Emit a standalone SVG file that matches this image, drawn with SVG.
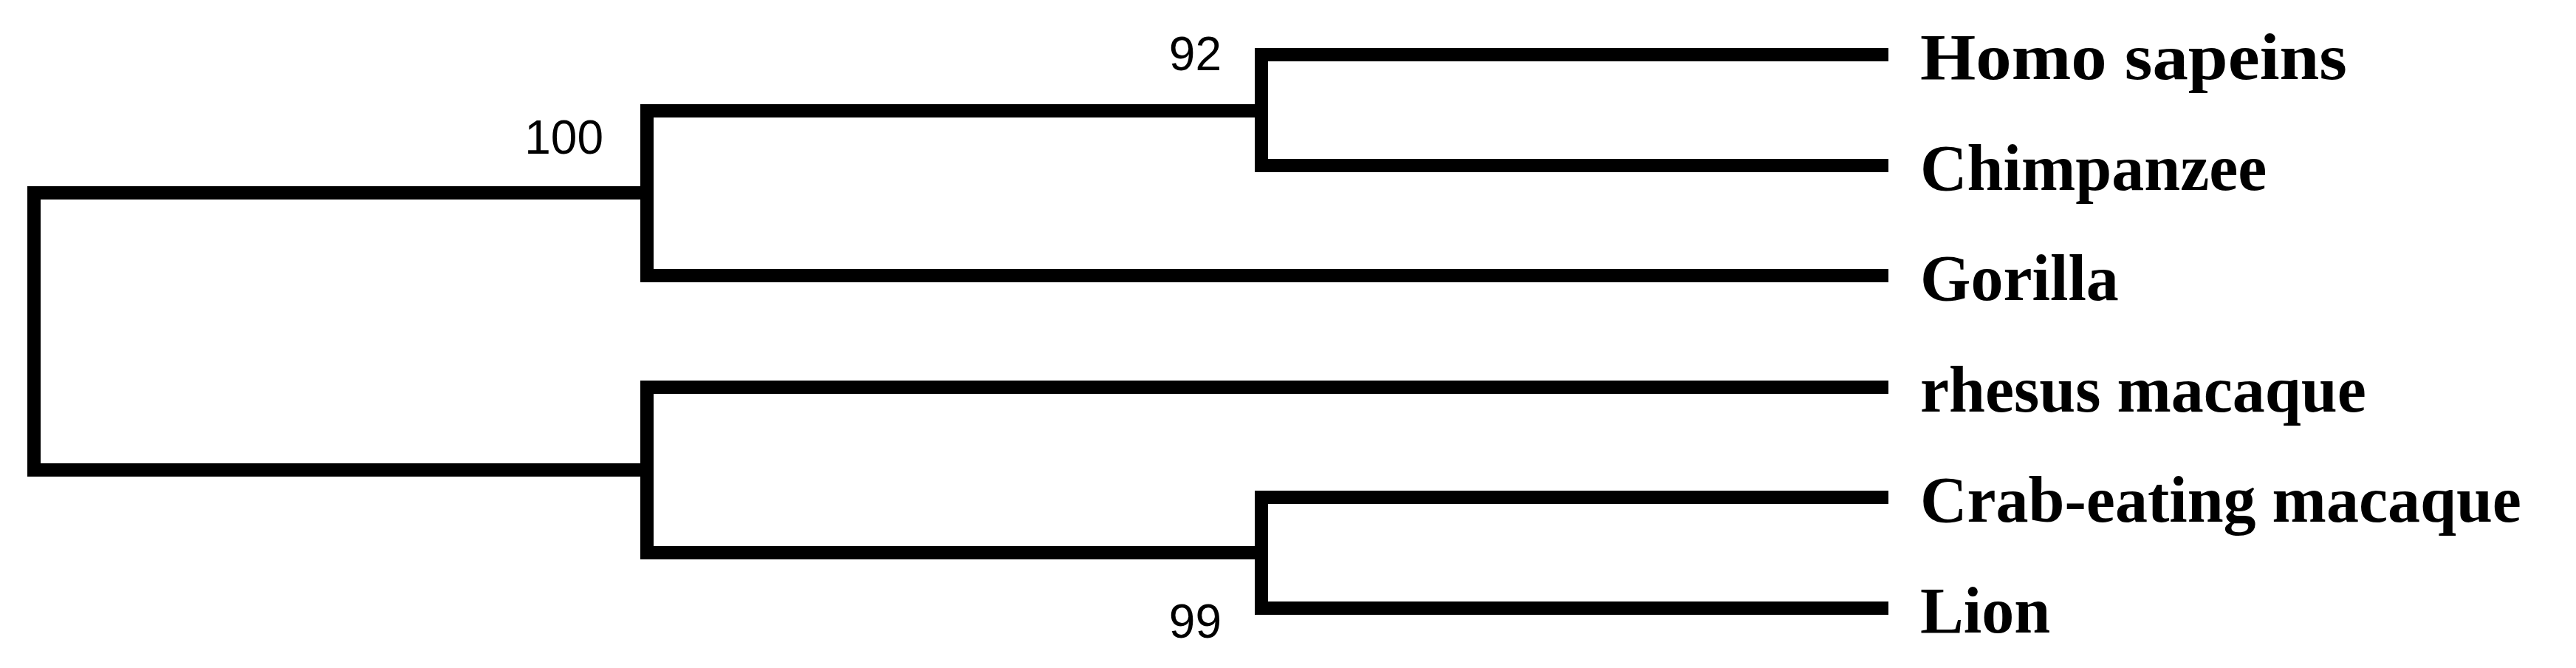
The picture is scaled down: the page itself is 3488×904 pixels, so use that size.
<svg xmlns="http://www.w3.org/2000/svg" width="3488" height="904" viewBox="0 0 3488 904">
<style>
.b{fill:none;stroke:#000;stroke-width:18;stroke-linecap:square}
.l{font-family:"Liberation Serif",serif;font-weight:bold;font-size:88px;fill:#000}
.n{font-family:"Liberation Sans",sans-serif;font-size:64px;fill:#000;text-anchor:end}
</style>
<rect width="3488" height="904" fill="#fff"/>
<g id="connectors">
<path class="b" d="M876 261H46V636H876"/>
<path class="b" d="M1708 150H876V373H2548"/>
<path class="b" d="M2548 74H1708V224H2548"/>
<path class="b" d="M2548 524H876V748H1708"/>
<path class="b" d="M2548 673H1708V823H2548"/>
</g>
<g id="n100"><text class="n" x="817" y="208">100</text></g>
<g id="n92"><text class="n" x="1654" y="95">92</text></g>
<g id="n99"><text class="n" x="1654" y="863">99</text></g>
<g id="homo"><text class="l" x="2600" y="107" textLength="578" lengthAdjust="spacingAndGlyphs">Homo sapeins</text></g>
<g id="chimp"><text class="l" x="2600" y="257">Chimpanzee</text></g>
<g id="gorilla"><text class="l" x="2600" y="406">Gorilla</text></g>
<g id="rhesus"><text class="l" x="2600" y="557">rhesus macaque</text></g>
<g id="crab"><text class="l" x="2600" y="706">Crab-eating macaque</text></g>
<g id="lion"><text class="l" x="2600" y="856">Lion</text></g>
</svg>
